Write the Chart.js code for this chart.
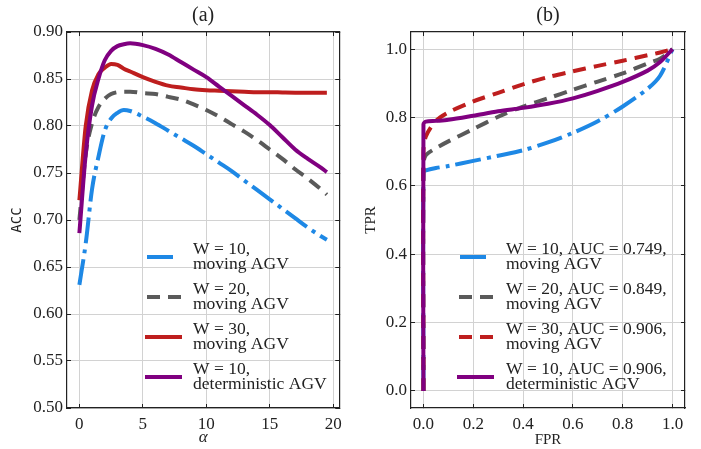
<!DOCTYPE html>
<html>
<head>
<meta charset="utf-8">
<script src="https://cdn.jsdelivr.net/npm/chart.js@4.4.1/dist/chart.umd.min.js"></script>
<style>
  html, body { margin: 0; padding: 0; background: #fff; }
  #wrap { position: relative; width: 701px; height: 449px; background: #fff; overflow: hidden; }
  .pane { position: absolute; top: 0; height: 449px; }
</style>
</head>
<body>
<div id="wrap">
  <div class="pane" style="left:0;width:352px"><canvas id="c1" width="352" height="449"></canvas></div>
  <div class="pane" style="left:352px;width:349px"><canvas id="c2" width="349" height="449"></canvas></div>
</div>
<script>
// ---------- Data: panel (a) ACC vs alpha ----------
const alpha = [0, 0.5, 1, 1.5, 2, 2.5, 3, 3.5, 4, 5, 6, 7, 8, 9, 10, 11, 12, 13, 14, 15, 16, 17, 18, 19, 19.5];
const accW10Moving = [0.631, 0.675, 0.733, 0.767, 0.795, 0.808, 0.814, 0.817, 0.816, 0.810, 0.803, 0.795, 0.787, 0.779, 0.770, 0.761, 0.752, 0.742, 0.732, 0.722, 0.712, 0.702, 0.692, 0.683, 0.679];
const accW20Moving = [0.700, 0.770, 0.803, 0.820, 0.829, 0.834, 0.836, 0.8365, 0.8365, 0.835, 0.834, 0.831, 0.828, 0.823, 0.817, 0.810, 0.802, 0.794, 0.785, 0.775, 0.765, 0.754, 0.744, 0.733, 0.727];
const accW30Moving = [0.721, 0.800, 0.838, 0.855, 0.862, 0.866, 0.865, 0.861, 0.858, 0.852, 0.847, 0.843, 0.841, 0.839, 0.838, 0.8375, 0.837, 0.8365, 0.836, 0.836, 0.8357, 0.8355, 0.8355, 0.8354, 0.8354];
const accW10Det    = [0.686, 0.770, 0.822, 0.850, 0.870, 0.880, 0.885, 0.887, 0.888, 0.886, 0.882, 0.876, 0.868, 0.860, 0.852, 0.842, 0.832, 0.822, 0.812, 0.801, 0.788, 0.775, 0.765, 0.756, 0.751];
const xTicksA = [0, 5, 10, 15, 20];
const yTicksA = [0.50, 0.55, 0.60, 0.65, 0.70, 0.75, 0.80, 0.85, 0.90];
const labelsA = [["W = 10,", "moving AGV"], ["W = 20,", "moving AGV"], ["W = 30,", "moving AGV"], ["W = 10,", "deterministic AGV"]];

// ---------- Data: panel (b) ROC ----------
const fpr = [0, 0, 0.01, 0.05, 0.1, 0.2, 0.3, 0.4, 0.5, 0.6, 0.7, 0.8, 0.9, 0.95, 1.0];
const tprW10Moving = [0, 0.640, 0.645, 0.652, 0.658, 0.673, 0.688, 0.704, 0.727, 0.755, 0.789, 0.832, 0.884, 0.922, 1.0];
const tprW20Moving = [0, 0.665, 0.690, 0.710, 0.730, 0.766, 0.802, 0.832, 0.856, 0.881, 0.905, 0.929, 0.958, 0.972, 1.0];
const tprW30Moving = [0, 0.700, 0.745, 0.790, 0.815, 0.847, 0.872, 0.897, 0.918, 0.935, 0.951, 0.966, 0.982, 0.990, 1.0];
const tprW10Det    = [0, 0.780, 0.788, 0.790, 0.793, 0.805, 0.818, 0.828, 0.840, 0.856, 0.878, 0.904, 0.937, 0.962, 1.0];
const xTicksB = [0.0, 0.2, 0.4, 0.6, 0.8, 1.0];
const yTicksB = [0.0, 0.2, 0.4, 0.6, 0.8, 1.0];
const labelsB = [["W = 10, AUC = 0.749,", "moving AGV"], ["W = 20, AUC = 0.849,", "moving AGV"], ["W = 30, AUC = 0.906,", "moving AGV"], ["W = 10, AUC = 0.906,", "deterministic AGV"]];

// ---------- Styling ----------
const SERIF = "'Liberation Serif', 'Times New Roman', serif";
const INK = '#222';
const BLUE = '#1E88E5', GRAY = '#5a5a5a', RED = '#be1e1e', PURPLE = '#800080';
const DASHDOT = [26, 6, 4, 6];
const DASHED = [13, 8];
Chart.defaults.font.family = SERIF;
Chart.defaults.color = INK;

const pts = (xs, ys) => xs.map((x, i) => ({ x: x, y: ys[i] }));

const innerLegend = {
  id: 'innerLegend',
  afterDraw(chart, args, o) {
    if (!o || o.x0 === undefined) return;
    const ctx = chart.ctx;
    ctx.save();
    ctx.font = '17.5px ' + SERIF;
    ctx.textBaseline = 'middle';
    ctx.textAlign = 'left';
    chart.data.datasets.forEach((ds, i) => {
      const cy = o.y0 + i * o.step;
      ctx.beginPath();
      ctx.setLineDash(ds.borderDash || []);
      ctx.lineWidth = ds.borderWidth;
      ctx.strokeStyle = ds.borderColor;
      ctx.lineCap = 'butt';
      ctx.moveTo(o.x0[i], cy);
      ctx.lineTo(o.x0[i] + o.len[i], cy);
      ctx.stroke();
      ctx.setLineDash([]);
      ctx.fillStyle = INK;
      const lines = ds.legendText;
      lines.forEach((t, k) => ctx.fillText(t, o.tx, cy + (k - (lines.length - 1) / 2) * o.lineGap));
    });
    ctx.restore();
  }
};

function axes(opts) {
  const gridMain = { display: true, color: '#d2d2d2', lineWidth: 1, borderDash: [1, 2],
                     drawTicks: true, tickLength: -4, tickColor: INK, tickWidth: 1, tickBorderDash: [] };
  const gridMirror = { display: true, drawOnChartArea: false, drawTicks: true, tickLength: -4, tickColor: INK, tickWidth: 1 };
  const border = { display: true, color: INK, width: 1.2 };
  const setTicks = (arr) => (s) => { s.ticks = arr.map(v => ({ value: v })); };
  return {
    x: { type: 'linear', position: 'bottom', min: opts.xmin, max: opts.xmax,
         afterBuildTicks: setTicks(opts.xt), afterFit: s => { s.height = 41; },
         grid: gridMain, border: border,
         ticks: { font: { size: 17 }, color: INK, padding: opts.xpad, maxRotation: 0, callback: opts.xfmt },
         title: { display: true, text: opts.xtitle, font: opts.xfont, color: INK, padding: { top: 0, bottom: opts.xtb } } },
    y: { type: 'linear', position: 'left', min: opts.ymin, max: opts.ymax,
         afterBuildTicks: setTicks(opts.yt), afterFit: s => { s.width = opts.yw; },
         grid: gridMain, border: border,
         ticks: { font: { size: 17 }, color: INK, padding: 8, callback: opts.yfmt },
         title: { display: true, text: opts.ytitle, font: opts.yfont, color: INK, padding: { top: opts.ytp, bottom: 0 } } },
    x2: { type: 'linear', position: 'top', min: opts.xmin, max: opts.xmax,
          afterBuildTicks: setTicks(opts.xt), afterFit: s => { s.height = 0; },
          grid: gridMirror, border: border, ticks: { display: false } },
    y2: { type: 'linear', position: 'right', min: opts.ymin, max: opts.ymax,
          afterBuildTicks: setTicks(opts.yt), afterFit: s => { s.width = 0; },
          grid: gridMirror, border: border, ticks: { display: false } }
  };
}

function ds(label, data, color, dash, order, extra) {
  return Object.assign({
    label: label.join(' '), legendText: label, data: data,
    borderColor: color, backgroundColor: color, borderWidth: 4, borderDash: dash,
    pointRadius: 0, fill: false, order: order, xAxisID: 'x', yAxisID: 'y'
  }, extra);
}

function baseOptions(title, padRight, legendOpts, scales) {
  return {
    responsive: false, animation: false, maintainAspectRatio: false,
    layout: { padding: { left: 0, right: padRight, top: 0, bottom: 0 } },
    plugins: {
      legend: { display: false }, tooltip: { enabled: false },
      title: { display: true, text: title, fullSize: false, color: INK,
               font: { size: 20, family: SERIF, weight: 'normal', lineHeight: 1.2 }, padding: { top: 4, bottom: 4 } },
      innerLegend: legendOpts
    },
    scales: scales
  };
}

// ---------- Panel (a) ----------
const smoothA = { cubicInterpolationMode: 'monotone' };
new Chart(document.getElementById('c1'), {
  type: 'line',
  data: { datasets: [
    ds(labelsA[0], pts(alpha, accW10Moving), BLUE, DASHDOT, 3, smoothA),
    ds(labelsA[1], pts(alpha, accW20Moving), GRAY, DASHED, 2, smoothA),
    ds(labelsA[2], pts(alpha, accW30Moving), RED, [], 1, smoothA),
    ds(labelsA[3], pts(alpha, accW10Det), PURPLE, [], 0, smoothA)
  ] },
  options: baseOptions('(a)', 9,
    { x0: [147, 147, 145, 145], len: [30, 34, 37, 37], tx: 193, y0: 257, step: 40, lineGap: 15 },
    axes({ xmin: -0.975, xmax: 20.475, ymin: 0.5, ymax: 0.9, xt: xTicksA, yt: yTicksA,
           xfmt: v => String(v), yfmt: v => Number(v).toFixed(2), xpad: 10, yw: 67,
           xtitle: 'α', xfont: { size: 17, style: 'italic', family: SERIF, lineHeight: 1.2 }, xtb: 1,
           ytitle: 'ACC', yfont: { size: 14, family: "'DejaVu Sans Mono', monospace", lineHeight: 1.2 }, ytp: 9 })),
  plugins: [innerLegend]
});

// ---------- Panel (b) ----------
const smoothB = { tension: 0.3 };
new Chart(document.getElementById('c2'), {
  type: 'line',
  data: { datasets: [
    ds(labelsB[0], pts(fpr, tprW10Moving), BLUE, DASHDOT, 3, smoothB),
    ds(labelsB[1], pts(fpr, tprW20Moving), GRAY, DASHED, 2, smoothB),
    ds(labelsB[2], pts(fpr, tprW30Moving), RED, DASHED, 1, smoothB),
    ds(labelsB[3], pts(fpr, tprW10Det), PURPLE, [], 0, smoothB)
  ] },
  options: baseOptions('(b)', 16,
    { x0: [108, 107, 107, 105], len: [30, 34, 34, 37], tx: 154, y0: 257, step: 40, lineGap: 15 },
    axes({ xmin: -0.05, xmax: 1.05, ymin: -0.05, ymax: 1.05, xt: xTicksB, yt: yTicksB,
           xfmt: v => Number(v).toFixed(1), yfmt: v => Number(v).toFixed(1), xpad: 10, yw: 59,
           xtitle: 'FPR', xfont: { size: 15, family: SERIF, lineHeight: 1.0 }, xtb: 1,
           ytitle: 'TPR', yfont: { size: 15, family: SERIF, lineHeight: 1.2 }, ytp: 10 })),
  plugins: [innerLegend]
});
</script>
</body>
</html>
